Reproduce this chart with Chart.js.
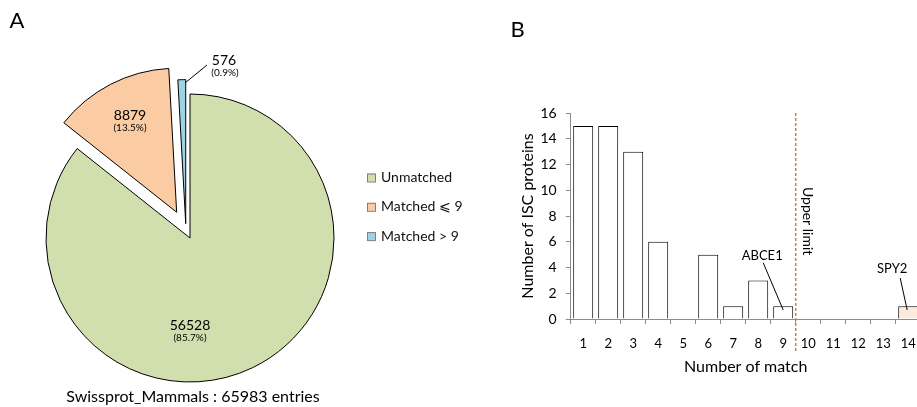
<!DOCTYPE html>
<html>
<head>
<meta charset="utf-8">
<script src="https://cdn.jsdelivr.net/npm/chart.js@4"></script>
<style>
  body { margin: 0; background: #fff; }
  #wrap { position: relative; width: 917px; height: 407px; overflow: hidden; }
  #pie { position: absolute; left: 0; top: 0; }
  #bars { position: absolute; left: 490px; top: 0; }
</style>
</head>
<body>
<div id="wrap">
  <canvas id="pie" width="490" height="407"></canvas>
  <canvas id="bars" width="440" height="407"></canvas>
</div>
<script>
// Dados do gráfico A (pizza)
const pieLabels = ['Unmatched', 'Matched \u2A7D 9', 'Matched > 9'];
const pieValues = [56528, 8879, 576];
const piePercents = ['85.7%', '13.5%', '0.9%'];
const pieColors = ['#D1DFAE', '#FBCBA3', '#9DD3E3'];

// Dados do gráfico B (barras)
const matchLabels = ['1', '2', '3', '4', '5', '6', '7', '8', '9', '10', '11', '12', '13', '14'];
const iscCounts = [15, 15, 13, 6, 0, 5, 1, 3, 1, 0, 0, 0, 0, 1];
const barColors = ['#fff', '#fff', '#fff', '#fff', '#fff', '#fff', '#fff', '#fff', '#fff', '#fff', '#fff', '#fff', '#fff', '#FDEADA'];

const FONT = 'Lato, "Open Sans", sans-serif';

// deslocamento das fatias (explosão), em px
const explodeDist = [0, 29, 15];
const explodeTilt = [0, 0, -15];

const explodePlugin = {
    id: 'explode',
    beforeDatasetDraw(chart, args) {
        const ctx = chart.ctx;
        args.meta.data.forEach((arc, i) => {
            const mid = (arc.startAngle + arc.endAngle) / 2 + explodeTilt[i] * Math.PI / 180;
            ctx.save();
            ctx.translate(Math.cos(mid) * explodeDist[i], Math.sin(mid) * explodeDist[i]);
            arc.draw(ctx);
            ctx.restore();
        });
        return false;
    }
};

// rótulos, legenda e título da pizza
const pieTextPlugin = {
    id: 'pieText',
    afterDraw(chart) {
        const ctx = chart.ctx;
        const arc = chart.getDatasetMeta(0).data[0];
        const cx = arc.x, cy = arc.y;
        ctx.save();
        ctx.textAlign = 'center';
        ctx.textBaseline = 'middle';
        ctx.fillStyle = '#000';

        const spots = [[0, 87], [-60, -123], [34, -178]];
        pieValues.forEach((v, i) => {
            ctx.font = '14px ' + FONT;
            ctx.fillText(String(v), cx + spots[i][0], cy + spots[i][1]);
            ctx.font = '10px ' + FONT;
            ctx.fillText('(' + piePercents[i] + ')', cx + spots[i][0] + (i === 2 ? 1 : 0), cy + spots[i][1] + 13);
        });

        // linha guia do 576
        ctx.strokeStyle = '#000';
        ctx.lineWidth = 1;
        ctx.beginPath();
        ctx.moveTo(cx - 5, cy - 155);
        ctx.lineTo(cx + 17, cy - 173);
        ctx.stroke();

        // legenda
        ctx.textAlign = 'left';
        ctx.font = '14px ' + FONT;
        pieLabels.forEach((lab, i) => {
            const y = 177.5 + i * 29.3;
            ctx.fillStyle = pieColors[i];
            ctx.fillRect(367, y - 4, 8, 8);
            ctx.strokeStyle = '#7f7f7f';
            ctx.strokeRect(367.5, y - 3.5, 8, 8);
            ctx.fillStyle = '#111';
            ctx.fillText(lab, 381, y);
        });

        ctx.textAlign = 'center';
        ctx.fillStyle = '#000';
        ctx.font = '16px ' + FONT;
        ctx.fillText('Swissprot_Mammals : 65983 entries', 193, 397);
        ctx.font = '22px ' + FONT;
        ctx.fillText('A', 17, 21);
        ctx.restore();
    }
};

new Chart(document.getElementById('pie'), {
    type: 'pie',
    data: {
        labels: pieLabels,
        datasets: [{
            data: pieValues,
            backgroundColor: pieColors,
            borderColor: '#000',
            borderWidth: 1
        }]
    },
    options: {
        responsive: false,
        animation: false,
        devicePixelRatio: 1,
        radius: 144,
        layout: { padding: { left: 5, right: 115, top: 90, bottom: 21 } },
        plugins: { legend: { display: false }, tooltip: { enabled: false } }
    },
    plugins: [explodePlugin, pieTextPlugin]
});

// anotações do gráfico de barras
const barTextPlugin = {
    id: 'barText',
    afterDraw(chart) {
        const ctx = chart.ctx;
        const x = chart.scales.x, y = chart.scales.y;
        ctx.save();

        // linha do limite superior
        const limX = (x.getPixelForValue(8) + x.getPixelForValue(9)) / 2;
        ctx.strokeStyle = '#C8823C';
        ctx.lineWidth = 1.5;
        ctx.setLineDash([3, 2]);
        ctx.beginPath();
        ctx.moveTo(limX, chart.chartArea.top);
        ctx.lineTo(limX, chart.chartArea.bottom + 34);
        ctx.stroke();
        ctx.setLineDash([]);

        ctx.fillStyle = '#000';
        ctx.font = '14px ' + FONT;
        ctx.textAlign = 'center';
        ctx.textBaseline = 'middle';
        ctx.save();
        ctx.translate(limX + 12, y.getPixelForValue(7.6));
        ctx.rotate(Math.PI / 2);
        ctx.fillText('Upper limit', 0, 0);
        ctx.restore();

        // ABCE1 e SPY2
        ctx.font = '13px ' + FONT;
        const x9 = x.getPixelForValue(8), x14 = x.getPixelForValue(13);
        ctx.fillText('ABCE1', x9 - 21, y.getPixelForValue(4.9));
        ctx.fillText('SPY2', x14 - 16, y.getPixelForValue(3.9));
        ctx.strokeStyle = '#000';
        ctx.lineWidth = 1;
        ctx.beginPath();
        ctx.moveTo(x9 - 20, y.getPixelForValue(4.37));
        ctx.lineTo(x9, y.getPixelForValue(0.7));
        ctx.moveTo(x14 - 8, y.getPixelForValue(3.18));
        ctx.lineTo(x14 - 1, y.getPixelForValue(0.7));
        ctx.stroke();

        ctx.font = '22px ' + FONT;
        ctx.fillText('B', 27.5, 30);
        ctx.restore();
    }
};

new Chart(document.getElementById('bars'), {
    type: 'bar',
    data: {
        labels: matchLabels,
        datasets: [{
            data: iscCounts,
            backgroundColor: barColors,
            borderColor: '#000',
            borderWidth: c => (c.raw ? 1 : 0),
            barPercentage: 0.8,
            categoryPercentage: 1
        }]
    },
    options: {
        responsive: false,
        animation: false,
        devicePixelRatio: 1,
        layout: { padding: { left: 24, right: 9.3, top: 113, bottom: 26.4 } },
        plugins: { legend: { display: false }, tooltip: { enabled: false } },
        scales: {
            x: {
                grid: { drawOnChartArea: false, drawTicks: true, tickLength: 5, color: '#8c8c8c', offset: true },
                border: { color: '#8c8c8c' },
                ticks: { color: '#000', font: { family: FONT, size: 13 }, padding: 12, maxRotation: 0, autoSkip: false },
                title: { display: true, text: 'Number of match', color: '#000', font: { family: FONT, size: 16 }, padding: { top: 4, bottom: 4 } },
                afterFit: s => { s.height = 61.6; }
            },
            y: {
                min: 0,
                max: 16,
                grid: { drawOnChartArea: false, drawTicks: true, tickLength: 5, color: '#8c8c8c' },
                border: { color: '#8c8c8c' },
                ticks: { stepSize: 2, color: '#000', font: { family: FONT, size: 14 }, padding: 9 },
                title: { display: true, text: 'Number of ISC proteins', color: '#000', font: { family: FONT, size: 16 }, padding: { top: 4, bottom: 4 } },
                afterFit: s => { s.width = 56.7; }
            }
        }
    },
    plugins: [barTextPlugin]
});
</script>
</body>
</html>
